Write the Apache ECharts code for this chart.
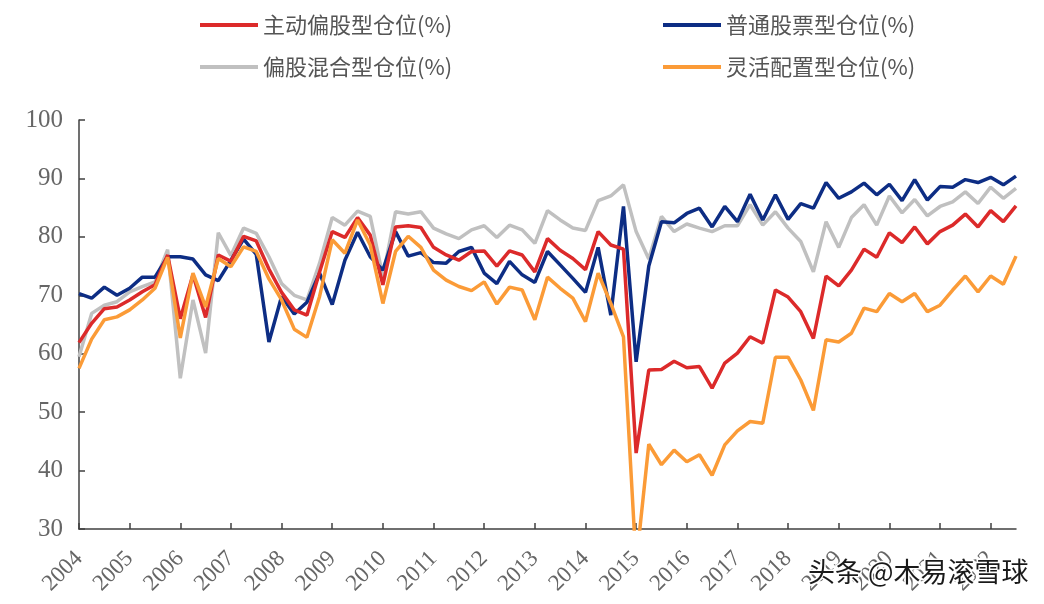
<!DOCTYPE html>
<html>
<head>
    <meta charset="utf-8" />
    <title></title>
    <script src="https://cdn.jsdelivr.net/npm/echarts@6/dist/echarts.min.js"></script>
</head>
<body style="margin:0;background:#fff;">
    <div id="container" style="width:1044px;height:604px;"></div>
    <script>
        // 年份（季度数据，从2004Q1到2022Q3）
        var years = [2004, 2005, 2006, 2007, 2008, 2009, 2010, 2011, 2012, 2013,
            2014, 2015, 2016, 2017, 2018, 2019, 2020, 2021, 2022];
        var pointCount = 75;

        var activeEquity = [61.9, 65.2, 67.7, 68.0, 69.2, 70.6, 71.8, 76.9, 66.0, 73.5,
            66.2, 76.9, 75.8, 80.1, 79.3, 74.5, 70.5, 67.5, 66.6, 74.0,
            80.9, 79.9, 83.3, 80.3, 71.8, 81.7, 81.9, 81.6, 78.2, 76.9,
            76.0, 77.5, 77.6, 75.0, 77.6, 76.9, 74.0, 79.7, 77.7, 76.3,
            74.4, 80.9, 78.6, 77.9, 43.0, 57.2, 57.3, 58.7, 57.6, 57.8,
            54.1, 58.4, 60.1, 62.9, 61.8, 70.9, 69.7, 67.2, 62.6, 73.3,
            71.6, 74.3, 77.9, 76.5, 80.7, 79.0, 81.7, 78.8, 80.9, 82.0,
            83.9, 81.7, 84.5, 82.6, 85.3];
        var stockFund = [70.3, 69.5, 71.4, 70.0, 71.2, 73.1, 73.1, 76.6, 76.6, 76.2,
            73.5, 72.5, 76.0, 79.6, 77.0, 62.0, 69.8, 66.8, 68.8, 73.8,
            68.4, 76.0, 80.8, 76.6, 74.3, 80.9, 76.7, 77.3, 75.6, 75.5,
            77.5, 78.2, 73.8, 72.0, 75.8, 73.5, 72.2, 77.5, 75.2, 72.9,
            70.5, 78.2, 66.6, 85.2, 58.6, 75.0, 82.6, 82.4, 84.0, 84.9,
            81.7, 85.2, 82.6, 87.3, 82.9, 87.2, 83.0, 85.7, 84.9, 89.3,
            86.6, 87.7, 89.2, 87.2, 89.0, 86.2, 89.8, 86.3, 88.6, 88.5,
            89.8, 89.3, 90.2, 88.9, 90.4];
        var hybridEquity = [59.5, 66.9, 68.3, 68.9, 70.6, 71.5, 72.3, 77.8, 55.8, 69.2,
            60.1, 80.7, 76.8, 81.5, 80.6, 76.6, 72.0, 70.0, 69.2, 75.5,
            83.3, 82.0, 84.4, 83.5, 73.2, 84.3, 83.9, 84.3, 81.5, 80.5,
            79.7, 81.2, 81.9, 79.9, 82.0, 81.2, 78.9, 84.5, 82.9, 81.5,
            81.1, 86.2, 87.0, 88.9, 80.9, 76.2, 83.5, 80.9, 82.2, 81.5,
            80.9, 81.9, 81.9, 85.5, 82.0, 84.3, 81.5, 79.2, 74.0, 82.6,
            78.2, 83.3, 85.5, 82.0, 87.0, 84.1, 86.4, 83.6, 85.2, 86.0,
            87.7, 85.7, 88.5, 86.6, 88.3];
        var flexible = [57.5, 62.5, 65.8, 66.3, 67.5, 69.2, 71.2, 76.5, 62.7, 73.8,
            68.0, 76.3, 74.9, 78.3, 77.5, 72.8, 69.2, 64.2, 62.8, 69.8,
            79.5, 77.2, 82.9, 78.6, 68.6, 77.5, 80.1, 78.2, 74.3, 72.6,
            71.5, 70.8, 72.3, 68.5, 71.4, 70.9, 65.8, 73.1, 71.2, 69.5,
            65.5, 73.8, 68.6, 62.9, 24.0, 44.5, 41.0, 43.5, 41.5, 42.7,
            39.2, 44.4, 46.8, 48.4, 48.1, 59.4, 59.4, 55.5, 50.3, 62.4,
            62.0, 63.5, 67.8, 67.2, 70.3, 68.9, 70.3, 67.2, 68.3, 70.9,
            73.3, 70.6, 73.3, 71.9, 76.7];

        var categories = [];
        years.forEach(function (y) {
            for (var q = 1; q <= 4; q++) categories.push(y + 'Q' + q);
        });
        categories = categories.slice(0, pointCount);

        var dom = document.getElementById("container");
        var myChart = echarts.init(dom);

        var numFont = '"Liberation Serif", "Times New Roman", serif';
        var cjkFont = '"Noto Sans CJK SC", sans-serif';

        function line(name, data, color, z) {
            return {
                name: name,
                type: 'line',
                data: data,
                symbol: 'none',
                z: z,
                lineStyle: { color: color, width: 3.5 },
                itemStyle: { color: color }
            };
        }

        var legendText = { fontFamily: cjkFont, fontSize: 22, color: '#555', lineHeight: 22 };

        var option = {
            backgroundColor: '#fff',
            animation: false,
            legend: [
                {
                    data: ['主动偏股型仓位(%)', '偏股混合型仓位(%)'],
                    orient: 'vertical',
                    left: 195, top: 9,
                    itemWidth: 58, itemHeight: 4, itemGap: 20, itemTextGap: 7, icon: 'rect',
                    textStyle: legendText
                },
                {
                    data: ['普通股票型仓位(%)', '灵活配置型仓位(%)'],
                    orient: 'vertical',
                    left: 658, top: 9,
                    itemWidth: 58, itemHeight: 4, itemGap: 20, itemTextGap: 7, icon: 'rect',
                    textStyle: legendText
                }
            ],
            grid: { left: 79, right: 28, top: 120, bottom: 75 },
            xAxis: {
                type: 'category',
                data: categories,
                boundaryGap: false,
                axisLine: { lineStyle: { color: '#404040', width: 1.5 } },
                axisTick: { inside: true, interval: 3, length: 6, lineStyle: { color: '#404040', width: 1.5 } },
                axisLabel: {
                    interval: 3, rotate: 45, margin: 26,
                    fontFamily: numFont, fontSize: 23, color: '#666',
                    formatter: function (v) { return v.slice(0, 4); }
                },
                splitLine: { show: false }
            },
            yAxis: {
                type: 'value',
                min: 30, max: 100, interval: 10,
                axisLine: { show: true, lineStyle: { color: '#404040', width: 1.5 } },
                axisTick: { show: true, inside: true, length: 6, lineStyle: { color: '#404040', width: 1.5 } },
                axisLabel: { margin: 16, fontFamily: numFont, fontSize: 25, color: '#666' },
                splitLine: { show: false }
            },
            graphic: [{
                type: 'text',
                right: 14, top: 557,
                z: 100,
                style: {
                    text: '头条 @木易滚雪球',
                    font: '27px "Noto Sans CJK SC"',
                    fill: '#1a1a1a',
                    stroke: '#fff',
                    lineWidth: 3
                }
            }],
            series: [
                line('偏股混合型仓位(%)', hybridEquity, '#c0c0c0', 2),
                line('普通股票型仓位(%)', stockFund, '#0d2d84', 3),
                line('主动偏股型仓位(%)', activeEquity, '#dc2a2a', 4),
                line('灵活配置型仓位(%)', flexible, '#fb9b37', 5)
            ]
        };

        myChart.setOption(option);
    </script>
</body>
</html>
